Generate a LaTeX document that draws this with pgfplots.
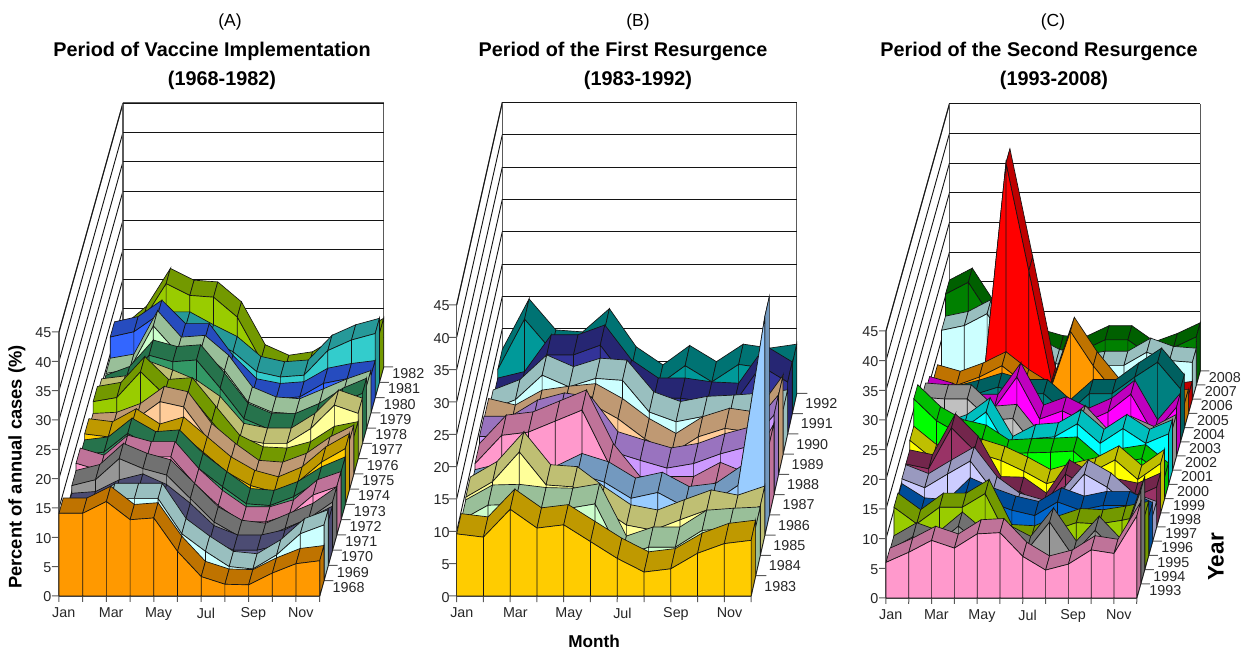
\documentclass[border=0pt]{standalone}
\usepackage{fontspec}
\setmainfont{Liberation Sans}
\usepackage{pgfplots}
\pgfplotsset{compat=1.18}

\definecolor{A1}{HTML}{99CC00}\definecolor{A2}{HTML}{33CCCC}\definecolor{A3}{HTML}{3366FF}
\definecolor{A4}{HTML}{CCFFCC}\definecolor{A5}{HTML}{339966}\definecolor{A6}{HTML}{FFFF99}
\definecolor{A7}{HTML}{FFCC99}\definecolor{A8}{HTML}{FFCC00}\definecolor{A9}{HTML}{FF99CC}
\definecolor{A10}{HTML}{969696}\definecolor{A11}{HTML}{666699}\definecolor{A12}{HTML}{CCFFFF}
\definecolor{A13}{HTML}{FF9900}\definecolor{B1}{HTML}{009999}\definecolor{B2}{HTML}{333399}
\definecolor{B3}{HTML}{CC99FF}\definecolor{B4}{HTML}{99CCFF}\definecolor{C1}{HTML}{008000}
\definecolor{C2}{HTML}{FF0000}\definecolor{C3}{HTML}{008080}\definecolor{C4}{HTML}{FF00FF}
\definecolor{C5}{HTML}{C0C0C0}\definecolor{C6}{HTML}{00FFFF}\definecolor{C7}{HTML}{00FF00}
\definecolor{C8}{HTML}{FFFF00}\definecolor{C9}{HTML}{993366}\definecolor{C10}{HTML}{CCCCFF}
\definecolor{C11}{HTML}{0066CC}

% one ribbon per year: top quads left to right, end cap, then the front wall
\newcommand\ribbon[3]{%
  \gdef\wallpath{}%
  \pgfmathtruncatemacro\kb{#1+1}%
  \foreach \v [count=\mm from 0, remember=\v as \p, remember=\mm as \pm] in {#3}{%
    \ifnum\mm>0
      \edef\tmp{\noexpand\addplot3[fill=#2!75!black,draw=lc,forget plot] coordinates
        {(\pm,#1,\p)(\mm,#1,\v)(\mm,\kb,\v)(\pm,\kb,\p)(\pm,#1,\p)};}\tmp
      \xdef\wallpath{\wallpath (\pm,#1,0)(\pm,#1,\p)(\mm,#1,\v)(\mm,#1,0)(\pm,#1,0)(\pm,#1,nan)}%
    \fi
    \xdef\lastv{\v}%
  }%
  \edef\tmp{\noexpand\addplot3[fill=#2!75!black,draw=lc,forget plot] coordinates
    {(11,#1,0)(11,#1,\lastv)(11,\kb,\lastv)(11,\kb,0)(11,#1,0)};}\tmp
  \edef\tmp{\noexpand\addplot3[fill=#2,draw=lc,forget plot,unbounded coords=jump] coordinates {\wallpath};}\tmp
}

% tick marks, #1 = number of years, #2/#3 = x and y length of a straight-down month tick
\newcommand\tickmarks[3]{%
  \gdef\tpath{}%
  \foreach \m in {0,...,11}{\pgfmathsetmacro\xe{\m+#2}\xdef\tpath{\tpath (\m,0,0)(\xe,-#3,0)(\m,0,nan)}}%
  \foreach \z in {0,5,...,45}{\xdef\tpath{\tpath (0,0,\z)(-0.3,0,\z)(0,0,nan)}}%
  \foreach \k in {1,...,#1}{\xdef\tpath{\tpath (11,\k,0)(11.4,\k,0)(11,\k,nan)}}%
  \edef\tmp{\noexpand\addplot3[draw=lc!70,line width=0.6pt,forget plot,unbounded coords=jump] coordinates {\tpath};}\tmp
}

\definecolor{lc}{HTML}{141414}
\pgfplotsset{panel/.style={
    clip=false, no markers,
    xmin=0, xmax=11, zmin=0, zmax=45,
    xtick={0,...,11},
    xticklabels={Jan,,Mar,,May,,Jul,,Sep,,Nov,},
    ztick={0,5,...,45},
    xmajorgrids=false, ymajorgrids=false, zmajorgrids=true,
    grid style={draw=lc,line width=0.55pt},
    axis line style={draw=lc!70,line width=0.7pt},
    tick style={draw=none},
    major tick length=5pt,
    tick align=outside,
    ticklabel style={font=\fontsize{8.6}{10}\selectfont,text=black!85},
    /pgf/number format/assume math mode=true,
    ytick pos=left, yticklabel pos=left,
    xtick pos=left, xticklabel pos=left,
    ztick pos=right, zticklabel pos=left,
    yticklabel style={anchor=north west,xshift=-1pt,yshift=0.2pt,inner sep=1pt},
    zticklabel style={anchor=east,inner sep=1pt,xshift=-2pt,yshift=4.2pt},
    xticklabel style={anchor=north,inner sep=1pt,xshift=4.2pt,yshift=-1pt},
    every plot/.append style={line width=0.6pt,line join=round},
}}

\begin{document}
\begin{tikzpicture}[x=0.6pt,y=-0.6pt]
\path[use as bounding box] (0,0) rectangle (1250,651);

\begin{axis}[panel, at={(35.4pt,-357.6pt)}, anchor=origin,
    x={(14.22pt,0pt)}, y={(2.56pt,9.16pt)}, z={(0pt,3.52pt)},
    ymin=0, ymax=15, ytick={1,...,15},
    yticklabels={1968,1969,1970,1971,1972,1973,1974,1975,1976,1977,1978,1979,1980,1981,1982}]
\tickmarks{15}{0.07}{0.39}
\ribbon{14}{A1}{7,10.4,16.8,14.8,14.5,11.1,3.8,2,2.6,5,6,8.3}
\ribbon{13}{A2}{7,8,12,12,9.8,7.8,4.4,3.5,3.8,8,9.8,10.9}
\ribbon{12}{A3}{12.9,13.8,16.6,12.6,12.6,7.2,3.2,2.4,2.7,5,5.8,6.3}
\ribbon{11}{A4}{9.3,10,17.4,12.9,13.2,9.8,4.4,2.7,2.4,4.1,5.8,7.2}
\ribbon{10}{A5}{9,10.5,15,13.9,14.2,9.4,4.2,2.5,2.5,4.2,6.8,8.5}
\ribbon{9}{A6}{11,11.5,14,12.5,10.8,8,3.4,2.6,2.6,5.1,9.1,7.7}
\ribbon{8}{A1}{12.3,13,17.4,13.5,13.8,8.9,4,2,1.8,2.9,5.5,6.3}
\ribbon{7}{A7}{10.3,10.5,12,14.9,14,8.6,5.2,2.3,2,3.5,6.3,8.3}
\ribbon{6}{A8}{12,11.5,13.7,11.1,12.3,8.9,5.5,3.2,2.1,3.8,7.2,9.5}
\ribbon{5}{A5}{11,11.5,14.7,12.4,12.7,8.7,5.6,2.7,2.4,3.9,6.4,8.1}
\ribbon{4}{A9}{12.2,11,14.4,13.3,13.3,8.7,5,2.2,2.2,3.4,6.8,8.2}
\ribbon{3}{A10}{11,12,15.6,13.9,12.8,8.8,4.8,2.5,2,3.7,5.4,8.2}
\ribbon{2}{A11}{9.7,10,12,13,11.2,8,4.2,2.6,2.6,3.5,5.5,7.5}
\ribbon{1}{A12}{11,11,14,14,14,8,5,2.4,2,4.4,8,9.5}
\ribbon{0}{A13}{14.1,14.1,16.1,13,13.3,7.6,3.3,2,1.9,3.9,5.5,6}
\end{axis}

\begin{axis}[panel, at={(274pt,-357.6pt)}, anchor=origin,
    x={(16.06pt,0pt)}, y={(2.74pt,12.16pt)}, z={(0pt,3.88pt)},
    ymin=0, ymax=10, ytick={1,...,10},
    yticklabel style={yshift=-2.2pt},
    yticklabels={1983,1984,1985,1986,1987,1988,1989,1990,1991,1992}]
\tickmarks{10}{0.05}{0.3}
\ribbon{9}{B1}{6.8,14.6,9.8,9.5,13.1,7.2,4.4,7.4,4.9,7.6,7,7.6}
\ribbon{8}{B2}{5.5,6.5,12.2,12.2,13.7,8.3,5.5,5.5,4.9,4.7,10.5,8}
\ribbon{7}{A12}{6.8,8.4,12.2,10.4,11.7,11.4,6.5,5,5.8,6,6.3,6.8}
\ribbon{6}{A7}{8.6,7.6,9.9,10.5,10.9,8.6,5.5,3.2,5.8,7.1,6.5,12.2}
\ribbon{5}{B3}{9,9,11.5,12.6,12,6.6,5.3,4.1,4.8,6.3,7.4,12.3}
\ribbon{4}{A9}{7.9,12.3,12.8,14.5,16.2,7.9,2.8,2.8,2.8,5,3.3,11}
\ribbon{3}{B4}{7,8,9,7.5,9.5,8.2,5.7,6.6,4.4,4.9,7.7,33.8}
\ribbon{2}{A6}{9,11.4,16,10.9,10.6,7.5,4.7,3.9,5.5,7,6.2,7.6}
\ribbon{1}{A4}{8.6,10.9,11,10.5,10.4,11.1,3,4.4,4.4,7,7.3,7.5}
\ribbon{0}{A8}{9.6,9.1,13.4,10.5,11,8.4,5.8,3.7,4.2,6.6,8.1,8.6}
\end{axis}

\begin{axis}[panel, at={(531.6pt,-358.8pt)}, anchor=origin,
    x={(13.68pt,0pt)}, y={(2.38pt,8.52pt)}, z={(0pt,3.56pt)},
    ymin=0, ymax=16, ytick={1,...,16},
    yticklabels={1993,1994,1995,1996,1997,1998,1999,2000,2001,2002,2003,2004,2005,2006,2007,2008}]
\tickmarks{16}{0.07}{0.42}
\ribbon{15}{C1}{15.3,17.3,11.4,8,7,5.9,5.8,7.6,7.6,4.9,6.3,8.1}
\ribbon{14}{A12}{11.6,12.4,14.4,8,8,6,5,5.7,5.7,7.9,6.5,6.2}
\ribbon{13}{C2}{4,4,5,42.2,24,5.3,4,3,2.5,2.5,2.5,3}
\ribbon{12}{A13}{8.2,7.1,8.5,10.4,7.4,5,16.2,10.4,5.7,4,4,4}
\ribbon{11}{C3}{7,7,8,9.2,8.1,8.1,4.7,8.1,8.1,10.9,13.4,8.9}
\ribbon{10}{C4}{11,9.9,8,8,13.3,6.2,7.6,5.7,7.4,10.4,3.7,8.2}
\ribbon{9}{C5}{12.3,12,12,8.4,8.7,3.9,5.5,8.5,4.4,6.7,5,7}
\ribbon{8}{C6}{6,8,9.4,12.2,5.7,7.7,8,10.2,6.9,9.4,6.9,8.5}
\ribbon{7}{C7}{16.8,13.1,10.9,10,7.5,7.7,7.8,8,4.7,6.1,6.7,3.6}
\ribbon{6}{C8}{12.2,9.1,10,10,8.8,7,4.9,6,6.9,8.9,5.6,8.3}
\ribbon{5}{C9}{10.6,9.8,16.7,12.9,6.1,6,3.3,8.9,6.7,5.8,5,6.7}
\ribbon{4}{C10}{10.5,9,11.3,13.5,8.5,5.7,4.6,6.9,11.3,9.1,5.7,4.3}
\ribbon{3}{C11}{9.7,7.3,7,10.7,9,7.6,6.7,9,7.6,8.4,8.4,6.5}
\ribbon{2}{A1}{10.5,7.7,10.5,10.5,12.8,5.2,5,6.6,7.9,7.7,8.3,9.1}
\ribbon{1}{A10}{5.7,7.9,6.5,9.7,6.5,7.6,5.6,10.4,4.8,9,5,15.7}
\ribbon{0}{A9}{6,7.7,9.7,8.4,10.8,11,7,4.7,5.7,8.1,7.5,13.8}
\end{axis}

\node[font=\fontsize{10.5}{12}\selectfont] at (230,22) {(A)};
\node[font=\fontsize{10.5}{12}\selectfont] at (638,22) {(B)};
\node[font=\fontsize{10.5}{12}\selectfont] at (1053,22) {(C)};
\node[font=\bfseries\fontsize{11.9}{13}\selectfont] at (212,51) {Period of Vaccine Implementation};
\node[font=\bfseries\fontsize{11.9}{13}\selectfont] at (222,80) {(1968-1982)};
\node[font=\bfseries\fontsize{11.9}{13}\selectfont] at (623,51) {Period of the First Resurgence};
\node[font=\bfseries\fontsize{11.9}{13}\selectfont] at (638,80) {(1983-1992)};
\node[font=\bfseries\fontsize{11.9}{13}\selectfont] at (1039,51) {Period of the Second Resurgence};
\node[font=\bfseries\fontsize{11.9}{13}\selectfont] at (1054,80) {(1993-2008)};
\node[font=\bfseries\fontsize{11}{11}\selectfont,rotate=90] at (17,467) {Percent of annual cases (\%)};
\node[font=\bfseries\fontsize{10.3}{11}\selectfont] at (594,641) {Month};
\node[font=\bfseries\fontsize{13.5}{15}\selectfont,rotate=90] at (1216,557) {Year};
\end{tikzpicture}
\end{document}
